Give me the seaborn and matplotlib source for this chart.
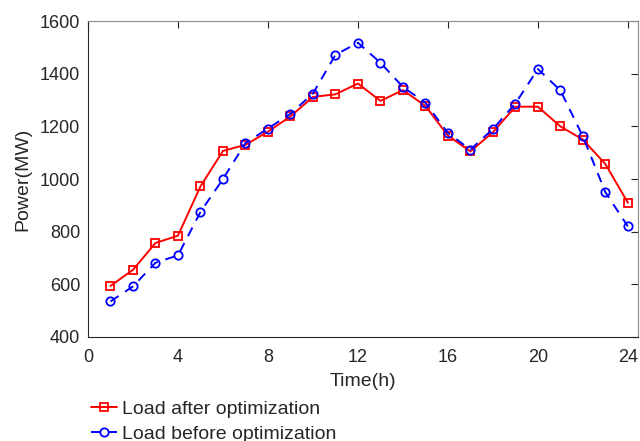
import matplotlib
matplotlib.use("Agg")
import matplotlib.pyplot as plt
import seaborn as sns
import pandas as pd

hours = list(range(1, 25))
after_opt = [594, 655, 757, 785, 972, 1107, 1130, 1180, 1238, 1312, 1322, 1363,
             1297, 1338, 1278, 1165, 1105, 1178, 1275, 1275, 1200, 1150, 1057, 910]
before_opt = [535, 592, 682, 710, 875, 1000, 1137, 1192, 1248, 1325, 1472, 1518,
              1442, 1350, 1290, 1175, 1112, 1190, 1287, 1418, 1337, 1162, 950, 820]
labels = ["Load after optimization", "Load before optimization"]
xticks = [0, 4, 8, 12, 16, 20, 24]
yticks = [400, 600, 800, 1000, 1200, 1400, 1600]

sns.set_style("white")
plt.rcParams['font.family'] = ['Liberation Sans', 'DejaVu Sans']

df = pd.DataFrame({
    "Time": hours * 2,
    "Power": after_opt + before_opt,
    "Series": [labels[0]] * 24 + [labels[1]] * 24,
})

fig = plt.figure(figsize=(6.4, 4.41), dpi=100)
ax = fig.add_axes([0.1375, 0.236, 0.859, 0.716])

sns.lineplot(data=df[df.Series == labels[0]], x="Time", y="Power", ax=ax,
             color="#ff0000", marker="s", markersize=5.5, markerfacecolor="none",
             markeredgecolor="#ff0000", markeredgewidth=1.3, linewidth=1.4,
             label=labels[0])
sns.lineplot(data=df[df.Series == labels[1]], x="Time", y="Power", ax=ax,
             color="#0000ff", marker="o", markersize=6, markerfacecolor="none",
             markeredgecolor="#0000ff", markeredgewidth=1.3, linewidth=1.4,
             linestyle=(0, (5, 4)), label=labels[1])

ax.set_xlim(0, 24.44)
ax.set_ylim(400, 1600)
ax.set_xticks(xticks)
ax.set_yticks(yticks)
ax.tick_params(direction="in", top=True, right=True, length=5, width=0.8,
               labelsize=13, colors="#262626")
ax.tick_params(axis="x", pad=9)
ax.tick_params(axis="y", pad=5.5)
for s in ax.spines.values():
    s.set_visible(True)
    s.set_color("#262626")
    s.set_linewidth(0.8)
ax.spines["top"].set_color("#8c8c8c")
ax.spines["right"].set_color("#8c8c8c")
ax.set_xlabel("Time(h)", fontsize=14, color="#262626", labelpad=5)
ax.set_ylabel("Power(MW)", fontsize=14, color="#262626", labelpad=6)

ax.legend(loc="upper left", bbox_to_anchor=(0.142, 0.093), bbox_transform=fig.transFigure,
          frameon=False, fontsize=14, handlelength=1.35, handletextpad=0.25,
          labelspacing=0.4, borderaxespad=0, borderpad=0)

fig.savefig("out.png", dpi=100)
